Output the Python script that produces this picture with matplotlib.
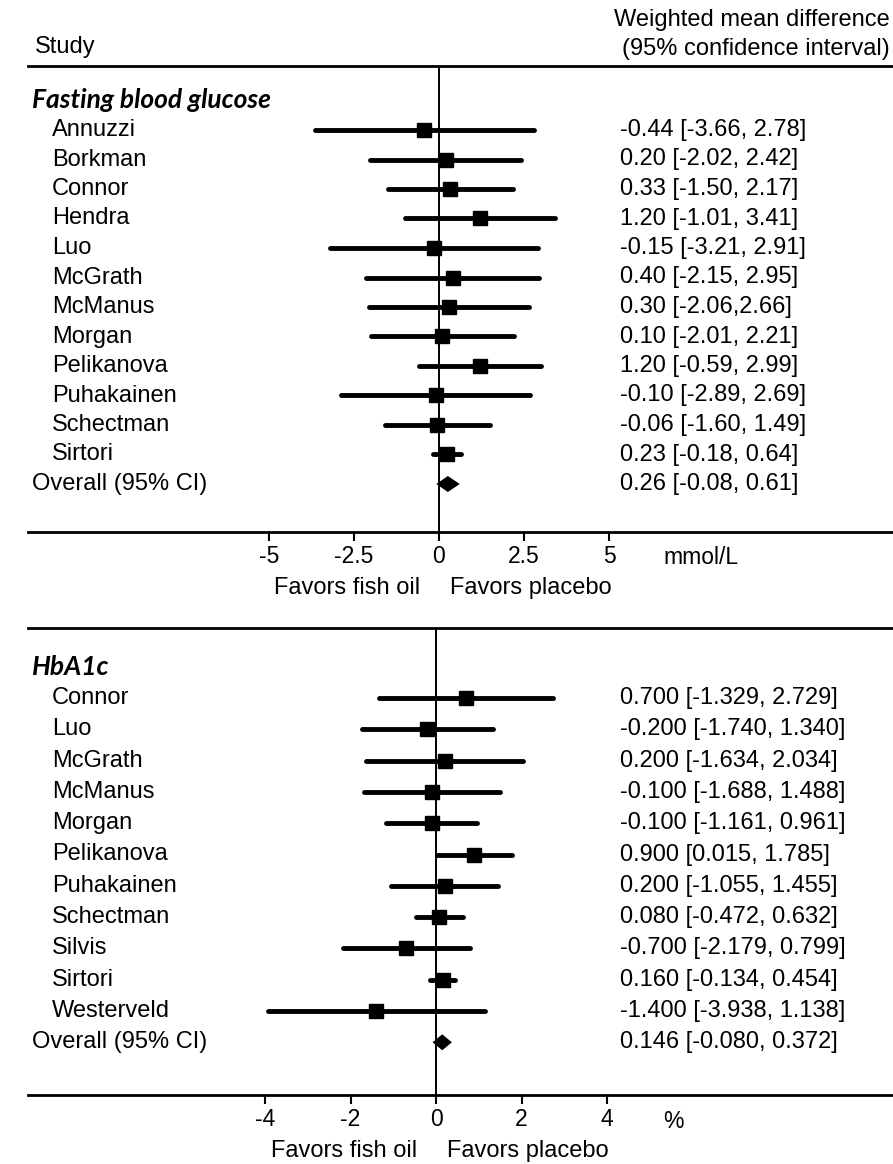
import matplotlib
matplotlib.use("Agg")
import matplotlib.pyplot as plt
import matplotlib.transforms as mtransforms

plt.rcParams['font.family'] = ['Liberation Sans', 'DejaVu Sans']

# Fasting blood glucose (mmol/L)
fbg_studies = ["Annuzzi", "Borkman", "Connor", "Hendra", "Luo", "McGrath", "McManus",
               "Morgan", "Pelikanova", "Puhakainen", "Schectman", "Sirtori"]
fbg_est = [-0.44, 0.20, 0.33, 1.20, -0.15, 0.40, 0.30, 0.10, 1.20, -0.10, -0.06, 0.23]
fbg_lo = [-3.66, -2.02, -1.50, -1.01, -3.21, -2.15, -2.06, -2.01, -0.59, -2.89, -1.60, -0.18]
fbg_hi = [2.78, 2.42, 2.17, 3.41, 2.91, 2.95, 2.66, 2.21, 2.99, 2.69, 1.49, 0.64]
fbg_text = ["-0.44 [-3.66, 2.78]", "0.20 [-2.02, 2.42]", "0.33 [-1.50, 2.17]",
            "1.20 [-1.01, 3.41]", "-0.15 [-3.21, 2.91]", "0.40 [-2.15, 2.95]",
            "0.30 [-2.06,2.66]", "0.10 [-2.01, 2.21]", "1.20 [-0.59, 2.99]",
            "-0.10 [-2.89, 2.69]", "-0.06 [-1.60, 1.49]", "0.23 [-0.18, 0.64]"]
fbg_overall = (0.26, -0.08, 0.61)
fbg_overall_text = "0.26 [-0.08, 0.61]"
fbg_ticks = [-5, -2.5, 0, 2.5, 5]
fbg_ticklabels = ["-5", "-2.5", "0", "2.5", "5"]

# HbA1c (%)
hba_studies = ["Connor", "Luo", "McGrath", "McManus", "Morgan", "Pelikanova",
               "Puhakainen", "Schectman", "Silvis", "Sirtori", "Westerveld"]
hba_est = [0.700, -0.200, 0.200, -0.100, -0.100, 0.900, 0.200, 0.080, -0.700, 0.160, -1.400]
hba_lo = [-1.329, -1.740, -1.634, -1.688, -1.161, 0.015, -1.055, -0.472, -2.179, -0.134, -3.938]
hba_hi = [2.729, 1.340, 2.034, 1.488, 0.961, 1.785, 1.455, 0.632, 0.799, 0.454, 1.138]
hba_text = ["0.700 [-1.329, 2.729]", "-0.200 [-1.740, 1.340]", "0.200 [-1.634, 2.034]",
            "-0.100 [-1.688, 1.488]", "-0.100 [-1.161, 0.961]", "0.900 [0.015, 1.785]",
            "0.200 [-1.055, 1.455]", "0.080 [-0.472, 0.632]", "-0.700 [-2.179, 0.799]",
            "0.160 [-0.134, 0.454]", "-1.400 [-3.938, 1.138]"]
hba_overall = (0.146, -0.080, 0.372)
hba_overall_text = "0.146 [-0.080, 0.372]"
hba_ticks = [-4, -2, 0, 2, 4]
hba_ticklabels = ["-4", "-2", "0", "2", "4"]

W, H = 893, 1164
fig = plt.figure(figsize=(W / 100, H / 100), dpi=100)

FS = 17
TFS = 16.5
HEAD_FONT = dict(family=['Lato', 'DejaVu Sans'], weight='bold', style='italic', fontsize=19)


def panel(top_px, bot_px, zero_px, px_per_unit, row0_px, row_step, title, studies,
          est, lo, hi, texts, overall, overall_text, ticks, ticklabels, unit):
    left_px, right_px = 28, 892
    ax = fig.add_axes([left_px / W, 1 - bot_px / H, (right_px - left_px) / W,
                       (bot_px - top_px) / H])
    ax.set_xlim((left_px - zero_px) / px_per_unit, (right_px - zero_px) / px_per_unit)
    ax.set_ylim((bot_px - row0_px) / row_step, (top_px - row0_px) / row_step)

    for s in ['left', 'right']:
        ax.spines[s].set_visible(False)
    for s in ['top', 'bottom']:
        ax.spines[s].set_linewidth(2.0)
    ax.set_yticks([])
    ax.set_xticks(ticks)
    ax.set_xticklabels(ticklabels, fontsize=TFS)
    ax.tick_params(axis='x', direction='out', length=6.5, width=1.5, pad=3)

    ax.axvline(0, color='black', lw=1.4, zorder=1)

    rows = list(range(len(studies)))
    ax.hlines(rows, lo, hi, color='black', lw=3.5, capstyle='round', zorder=2)
    ax.plot(est, rows, 's', color='black', markersize=10.5, zorder=3)

    # pooled estimate as a diamond
    y_ov = len(studies)
    h = 8.0 / row_step
    e, l, r = overall
    ax.fill([l, e, r, e], [y_ov, y_ov - h, y_ov, y_ov + h], color='black', lw=0, zorder=3)

    tr = mtransforms.blended_transform_factory(fig.transFigure, ax.transData)
    ax.text(32 / W, -1, title, transform=tr, va='center', ha='left', **HEAD_FONT)
    for i, (name, t) in enumerate(zip(studies, texts)):
        ax.text(52 / W, i, name, transform=tr, va='center', ha='left', fontsize=FS)
        ax.text(620 / W, i, t, transform=tr, va='center', ha='left', fontsize=FS)
    ax.text(32 / W, y_ov, "Overall (95% CI)", transform=tr, va='center', ha='left', fontsize=FS)
    ax.text(620 / W, y_ov, overall_text, transform=tr, va='center', ha='left', fontsize=FS)

    xc = ('data', 'axes fraction')
    fav_dy = -56 * 0.72
    ax.annotate("Favors fish oil", xy=(0, 0), xycoords=xc, xytext=(-19 * 0.72, fav_dy),
                textcoords='offset points', ha='right', va='center', fontsize=FS)
    ax.annotate("Favors placebo", xy=(0, 0), xycoords=xc, xytext=(11 * 0.72, fav_dy),
                textcoords='offset points', ha='left', va='center', fontsize=FS)
    ax.annotate(unit, xy=(ticks[-1], 0), xycoords=xc,
                xytext=((663 - zero_px - ticks[-1] * px_per_unit) * 0.72, -26 * 0.72),
                textcoords='offset points', ha='left', va='center', fontsize=TFS)
    return ax


panel(66, 532, 439, 34.0, 130, 29.5, "Fasting blood glucose", fbg_studies, fbg_est,
      fbg_lo, fbg_hi, fbg_text, fbg_overall, fbg_overall_text, fbg_ticks, fbg_ticklabels,
      "mmol/L")
panel(628, 1095, 436, 42.75, 698, 31.3, "HbA1c", hba_studies, hba_est,
      hba_lo, hba_hi, hba_text, hba_overall, hba_overall_text, hba_ticks, hba_ticklabels,
      "%")

fig.text(35 / W, 1 - 47 / H, "Study", ha='left', va='center', fontsize=FS)
fig.text(890 / W, 1 - 20 / H, "Weighted mean difference", ha='right', va='center', fontsize=FS)
fig.text(890 / W, 1 - 49 / H, "(95% confidence interval)", ha='right', va='center', fontsize=FS)

fig.savefig("out.png", dpi=100)
